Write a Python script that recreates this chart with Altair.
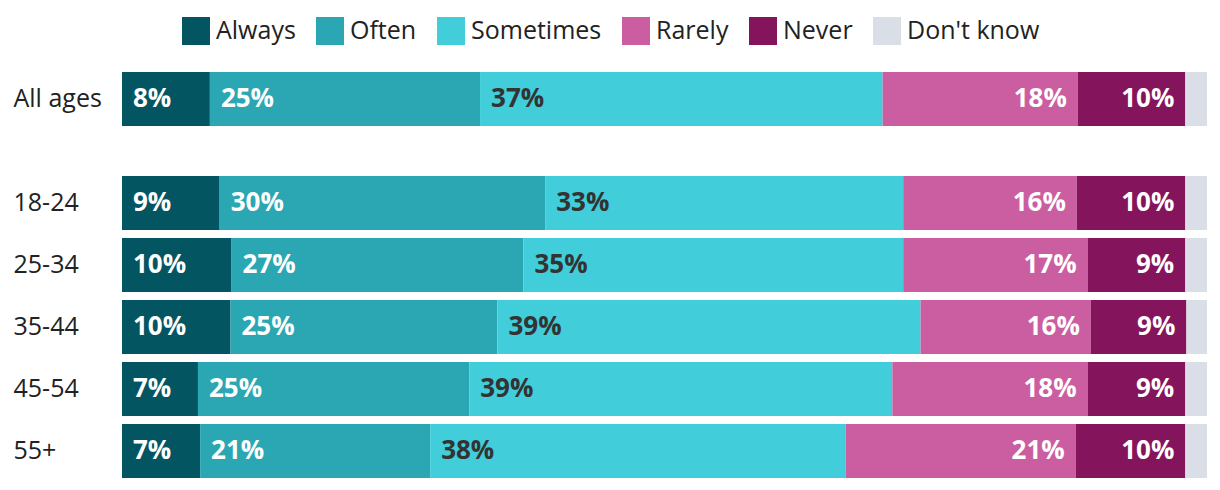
import altair as alt
import pandas as pd

groups = ["All ages", "18-24", "25-34", "35-44", "45-54", "55+"]
responses = ["Always", "Often", "Sometimes", "Rarely", "Never", "Don't know"]
always = [8.1, 9.0, 10.1, 10.0, 7.0, 7.2]
often = [24.9, 30.0, 26.9, 24.6, 25.0, 21.2]
sometimes = [37.1, 33.0, 35.0, 39.0, 39.0, 38.3]
rarely = [18.0, 16.0, 17.0, 15.7, 18.0, 21.2]
never = [9.9, 10.0, 9.0, 8.8, 9.0, 10.1]
dont_know = [2.0, 2.0, 2.0, 1.9, 2.0, 2.0]
colors = ["#035562", "#2ba7b3", "#41cdd9", "#cb5ea0", "#84145c", "#dadee6"]
label_side = ["left", "left", "left", "right", "right", "none"]

series = [always, often, sometimes, rarely, never, dont_know]
rows = []
for gi, g in enumerate(groups):
    for ri, r in enumerate(responses):
        rows.append({"group": g, "response": r, "value": series[ri][gi],
                     "order": ri, "side": label_side[ri]})
df = pd.DataFrame(rows)

FONT = "Open Sans"
FS = 25
VFS = 26

legend = alt.Legend(orient="none", legendX=60, legendY=-55, direction="horizontal",
                    columns=6, title=None, symbolType="square", symbolSize=784,
                    symbolStrokeWidth=0, labelFontSize=FS, labelFont=FONT,
                    labelColor="#222222", columnPadding=20, labelOffset=6,
                    symbolOpacity=1, labelLimit=300)


def panel(data, cats, height, pad_inner):
    base = alt.Chart(data).transform_stack(
        stack="value", groupby=["group"], as_=["x0", "x1"],
        sort=[alt.SortField("order")]
    ).transform_calculate(label="format(datum.value, '.0f') + '%'")
    y = alt.Y("group:N", sort=cats, title=None,
              scale=alt.Scale(paddingInner=pad_inner, paddingOuter=0),
              axis=alt.Axis(domain=False, ticks=False, labelAlign="left",
                            labelPadding=109, labelFontSize=FS, labelFont=FONT,
                            labelColor="#222222", labelLimit=200))
    xs = alt.Scale(domain=[0, 100], nice=False, zero=True)
    bars = base.mark_bar().encode(
        x=alt.X("x0:Q", scale=xs, axis=None),
        x2="x1:Q",
        y=y,
        color=alt.Color("response:N", scale=alt.Scale(domain=responses, range=colors),
                        sort=responses, legend=legend),
    )
    tcol = alt.condition("datum.response == 'Sometimes'", alt.value("#333333"),
                         alt.value("#ffffff"))
    left = base.transform_filter("datum.side == 'left'").mark_text(
        align="left", baseline="middle", dx=11, fontSize=VFS, fontWeight="bold", font=FONT
    ).encode(x=alt.X("x0:Q", scale=xs, axis=None), y=y, text="label:N", color=tcol)
    right = base.transform_filter("datum.side == 'right'").mark_text(
        align="right", baseline="middle", dx=-11, fontSize=VFS, fontWeight="bold", font=FONT
    ).encode(x=alt.X("x1:Q", scale=xs, axis=None), y=y, text="label:N", color=tcol)
    return alt.layer(bars, left, right).properties(width=1085, height=height)


top = panel(df[df.group == groups[0]], groups[:1], 54, 0)
bottom = panel(df[df.group != groups[0]], groups[1:], 302, 8 / 62)

chart = alt.vconcat(top, bottom, spacing=50).resolve_scale(
    y="independent", x="shared", color="shared"
).configure_view(stroke=None).properties(
    padding={"left": 5, "right": 5, "top": 9, "bottom": 5}
)

chart.save("out.html", embed_options={"renderer": "svg", "actions": False})
